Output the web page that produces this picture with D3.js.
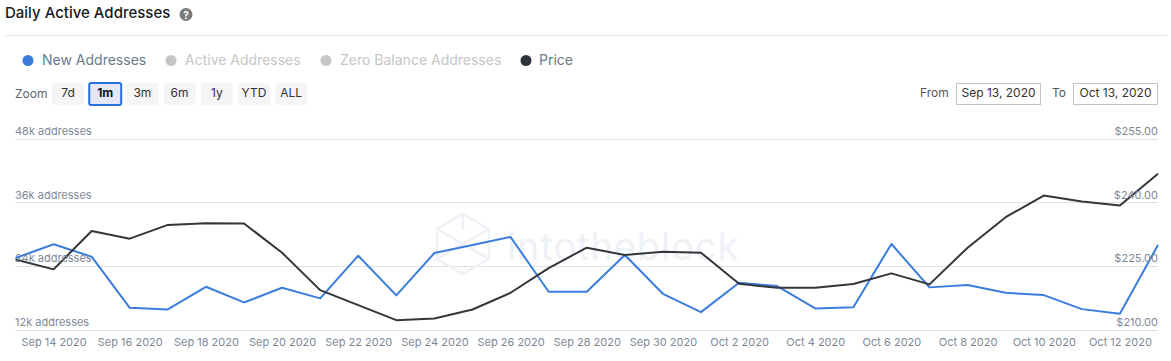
<!DOCTYPE html>
<html><head><meta charset="utf-8">
<script src="https://cdn.jsdelivr.net/npm/d3@7"></script>
<style>
html,body{margin:0;padding:0;background:#fff;overflow:hidden}
text{font-family:Inter,"Noto Sans",sans-serif}
</style></head><body><svg id="c" width="1171" height="361"></svg>
<script>
const startDate = "2020-09-13";
const newAddresses = [25.47,28.06,25.72,16.08,15.78,20.05,17.10,19.86,17.86,25.91,18.43,26.42,27.93,29.44,19.11,19.11,26.04,18.73,15.27,20.81,20.18,15.97,16.21,28.12,19.94,20.37,18.92,18.48,15.84,14.95,27.93];
const price = [226.49,224.17,233.22,231.40,234.64,235.04,234.99,228.09,219.28,215.74,212.20,212.60,214.72,218.65,224.48,229.28,227.55,228.33,228.09,220.77,219.83,219.83,220.70,223.23,220.63,229.28,236.46,241.56,240.14,239.20,246.68];
const addressTicks = [12,24,36,48];
const priceTicks = [210,225,240,255];
const legendItems = [
 {name:"New Addresses",dot:28,tx:42,c:"#3b7ddd",t:"#6b7a8d"},
 {name:"Active Addresses",dot:171,tx:185,c:"#c6c6c6",t:"#c6c6c6"},
 {name:"Zero Balance Addresses",dot:326,tx:340,c:"#c6c6c6",t:"#c6c6c6"},
 {name:"Price",dot:526,tx:539,c:"#30343a",t:"#6b7a8d"}];
const zoomButtons = ["7d","1m","3m","6m","1y","YTD","ALL"];

const svg = d3.select("#c");
const parse = d3.utcParse("%Y-%m-%d");
const t0 = parse(startDate);
const dates = newAddresses.map((_,i)=>d3.utcDay.offset(t0,i));
const X0=15.5,X1=1158,YB=329.5,YT=138.5;
const x = d3.scaleUtc().domain([dates[0],dates[dates.length-1]]).range([X0,X1]);
const yL = d3.scaleLinear().domain([12,48]).range([YB,YT]);
const yR = d3.scaleLinear().domain([210,255]).range([YB,YT]);

// header
svg.append("text").attr("x",5).attr("y",18).attr("font-size",15).attr("font-weight",500).attr("fill","#16191d").text("Daily Active Addresses");
svg.append("circle").attr("cx",186).attr("cy",14.5).attr("r",6.5).attr("fill","#7b7b7b");
svg.append("text").attr("x",186).attr("y",18.5).attr("text-anchor","middle").attr("font-size",10).attr("font-weight",700).attr("fill","#fff").text("?");
svg.append("line").attr("x1",5).attr("x2",1167).attr("y1",35.5).attr("y2",35.5).attr("stroke","#dde5ec");

// legend
legendItems.forEach(d=>{
 svg.append("circle").attr("cx",d.dot).attr("cy",60.5).attr("r",5.5).attr("fill",d.c);
 svg.append("text").attr("x",d.tx).attr("y",65).attr("font-size",14).attr("fill",d.t).text(d.name);
});

// zoom row
svg.append("text").attr("x",15).attr("y",98).attr("font-size",12).attr("fill","#5b6470").text("Zoom");
zoomButtons.forEach((b,i)=>{
 const cx=68+i*37.2, on=b==="1m";
 svg.append("rect").attr("x",cx-16).attr("y",83).attr("width",32).attr("height",22).attr("rx",2)
  .attr("fill",on?"#e3e8f4":"#f5f5f5").attr("stroke",on?"#2a6fe0":"none").attr("stroke-width",on?2:0);
 svg.append("text").attr("x",cx).attr("y",97).attr("text-anchor","middle").attr("font-size",12)
  .attr("font-weight",on?700:400).attr("fill",on?"#111":"#333").text(b);
});
svg.append("text").attr("x",920).attr("y",97).attr("font-size",12).attr("fill","#555").text("From");
svg.append("text").attr("x",1052).attr("y",97).attr("font-size",12).attr("fill","#555").text("To");
[[956.5,"Sep 13, 2020"],[1073.5,"Oct 13, 2020"]].forEach(([bx,s])=>{
 svg.append("rect").attr("x",bx).attr("y",83.5).attr("width",84).attr("height",21).attr("fill","#fff").attr("stroke","#c4c4c4");
 svg.append("text").attr("x",bx+42).attr("y",97).attr("text-anchor","middle").attr("font-size",12).attr("fill","#333").text(s);
});

// gridlines
const grid = svg.append("g");
grid.selectAll("line").data(addressTicks).join("line")
 .attr("x1",X0).attr("x2",X1).attr("y1",d=>Math.round(yL(d))+.5).attr("y2",d=>Math.round(yL(d))+.5)
 .attr("stroke","#e0e0e0");

// watermark
const wm = svg.append("g").attr("fill","none").attr("stroke","#eef1f6").attr("stroke-width",2.5);
wm.append("path").attr("d","M463 214 L489 229 L489 259 L463 274 L437 259 L437 229 Z M437 229 L463 244 L489 229 M437 259 L463 244 L489 259 M463 214 L463 230");
svg.append("text").attr("x",507).attr("y",260).attr("font-size",38).attr("fill","#eef1f6").attr("letter-spacing",0.9).text("intotheblock");

// series
const line = sc => d3.line().x((d,i)=>x(dates[i])).y(d=>sc(d));
svg.append("path").datum(newAddresses).attr("d",line(yL)).attr("fill","none").attr("stroke","#3b7ddd").attr("stroke-width",2).attr("stroke-linejoin","round");
svg.append("path").datum(price).attr("d",line(yR)).attr("fill","none").attr("stroke","#33363b").attr("stroke-width",2).attr("stroke-linejoin","round");

// axes
const axisText = "#7d8896";
const gx = svg.append("g").attr("transform",`translate(0,${YB})`).call(
 d3.axisBottom(x).tickValues(dates.filter((d,i)=>i%2===1)).tickSize(0).tickPadding(9)
 .tickFormat(d3.utcFormat("%b %-d %Y")));
gx.select(".domain").remove();
gx.selectAll("text").attr("font-size",11).attr("fill",axisText).style("font-family","Inter,sans-serif");

const gl = svg.append("g").attr("transform",`translate(${X0-0.5},0)`).call(
 d3.axisRight(yL).tickValues(addressTicks).tickSize(0).tickPadding(0).tickFormat(d=>d+"k addresses"));
gl.select(".domain").remove();
gl.selectAll("text").attr("font-size",11).attr("fill",axisText).attr("dy",-4).style("font-family","Inter,sans-serif");

const gr = svg.append("g").attr("transform",`translate(${X1},0)`).call(
 d3.axisLeft(yR).tickValues(priceTicks).tickSize(0).tickPadding(0).tickFormat(d3.format("$.2f")));
gr.select(".domain").remove();
gr.selectAll("text").attr("font-size",11).attr("fill",axisText).attr("dy",-4).style("font-family","Inter,sans-serif");
</script></body></html>
